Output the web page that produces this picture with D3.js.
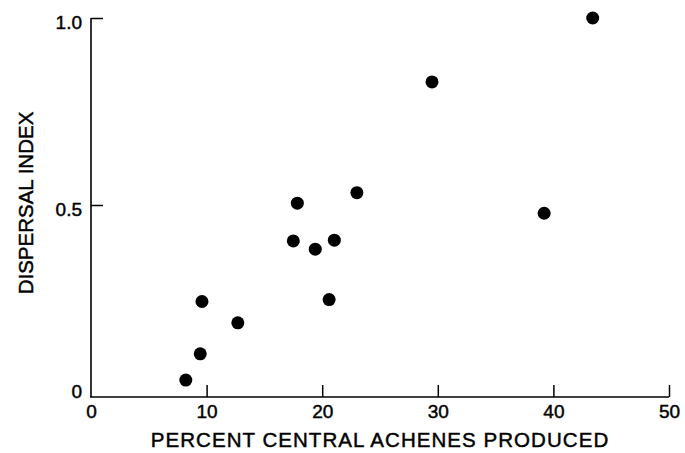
<!DOCTYPE html>
<html>
<head>
<meta charset="utf-8">
<script src="https://cdn.jsdelivr.net/npm/d3@7"></script>
<style>
  html, body { margin: 0; padding: 0; background: #fff; }
  svg { display: block; }
  text { font-family: "Liberation Sans", Arial, Helvetica, sans-serif; fill: #000; stroke: #000; stroke-width: 0.45px; }
</style>
</head>
<body>
<svg id="chart" width="685" height="453"></svg>
<script>
// Percent of central achenes produced vs. dispersal index
const percentCentral = [8.2, 9.45, 9.6, 12.7, 17.5, 17.85, 19.4, 20.6, 21.05, 23.0, 29.5, 39.2, 43.4];
const dispersalIndex = [0.032, 0.102, 0.242, 0.185, 0.404, 0.505, 0.382, 0.247, 0.406, 0.533, 0.829, 0.478, 1.0];
const xTicks = [0, 10, 20, 30, 40, 50];
const yTicks = [0, 0.5, 1.0];
const xTitle = "PERCENT CENTRAL ACHENES PRODUCED";
const yTitle = "DISPERSAL INDEX";

const svg = d3.select("#chart");
const axisY = 397;   // baseline of the horizontal axis
const axisX = 91;    // position of the vertical axis

const x = d3.scaleLinear().domain([0, 50]).range([91, 669]);
const y = d3.scaleLinear().domain([0, 1]).range([392, 18]);

// horizontal axis, ticks pointing up into the plot
const gx = svg.append("g")
  .attr("transform", `translate(0,${axisY})`)
  .call(d3.axisBottom(x).tickValues(xTicks).tickSizeInner(-12).tickSizeOuter(0)
    .tickPadding(8).tickFormat(d3.format("d")));
gx.select(".domain").remove();
gx.selectAll(".tick line").attr("stroke", "#000").attr("stroke-width", 1.5)
  .attr("display", d => d === 0 ? "none" : null);
gx.selectAll(".tick text").attr("font-size", 19).attr("font-family", null);

// vertical axis, ticks pointing right
const gy = svg.append("g")
  .attr("transform", `translate(${axisX},0)`)
  .call(d3.axisLeft(y).tickValues(yTicks).tickSizeInner(-12).tickSizeOuter(0)
    .tickPadding(9).tickFormat(d => d === 0 ? "0" : d3.format(".1f")(d)));
gy.select(".domain").remove();
gy.selectAll(".tick line").attr("stroke", "#000").attr("stroke-width", 1.5)
  .attr("display", d => d === 0 ? "none" : null);
gy.selectAll(".tick text").attr("font-size", 19).attr("font-family", null)
  .attr("dy", d => d === 0 ? "0.3em" : "0.55em");

// axis lines
svg.append("line")
  .attr("x1", axisX).attr("x2", axisX)
  .attr("y1", y(1)).attr("y2", axisY)
  .attr("stroke", "#000").attr("stroke-width", 1.6);
svg.append("line")
  .attr("x1", axisX - 1).attr("x2", x(50))
  .attr("y1", axisY).attr("y2", axisY)
  .attr("stroke", "#000").attr("stroke-width", 1.6);

// data points
svg.append("g").selectAll("circle")
  .data(d3.range(percentCentral.length))
  .join("circle")
  .attr("cx", i => x(percentCentral[i]))
  .attr("cy", i => y(dispersalIndex[i]))
  .attr("r", 6.5)
  .attr("fill", "#000");

// axis titles
svg.append("text")
  .attr("x", (x(0) + x(50)) / 2)
  .attr("y", 447)
  .attr("text-anchor", "middle")
  .attr("font-size", 20.5)
  .attr("letter-spacing", "1.05px")
  .text(xTitle);

svg.append("text")
  .attr("transform", `translate(33,${(y(0) + y(1)) / 2 - 2}) rotate(-90)`)
  .attr("text-anchor", "middle")
  .attr("font-size", 20.5)
  .text(yTitle);
</script>
</body>
</html>
